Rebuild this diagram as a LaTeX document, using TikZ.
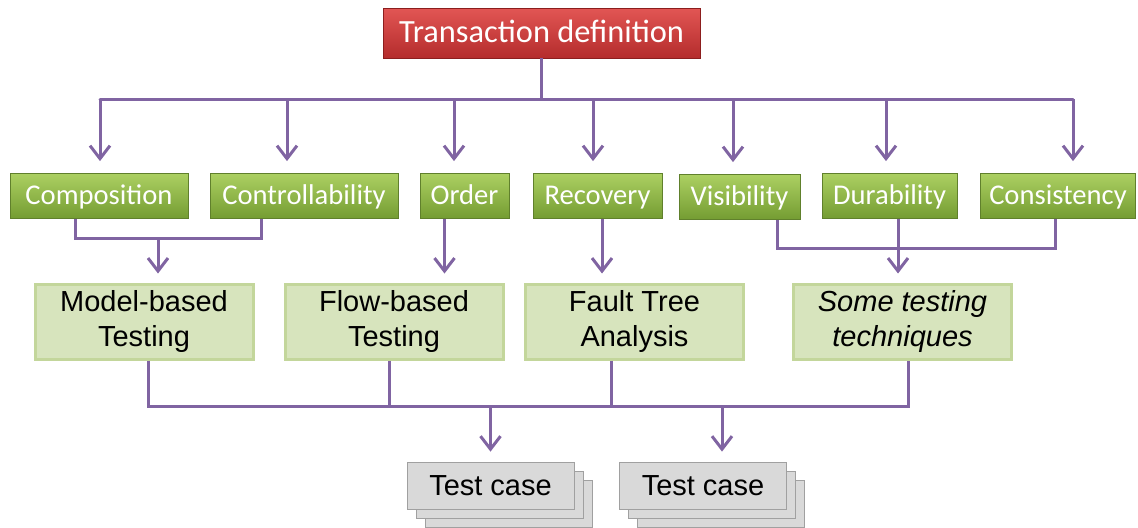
\documentclass[tikz,border=0pt]{standalone}
\usepackage{fontspec}
\setmainfont{Carlito}
\newfontfamily\arialfont{Liberation Sans}
\usetikzlibrary{arrows.meta,positioning}
\definecolor{linkpurple}{RGB}{128,100,162}
\definecolor{redtop}{RGB}{226,86,84}
\definecolor{redbot}{RGB}{180,44,44}
\definecolor{reddark}{RGB}{140,30,30}
\definecolor{greentop}{RGB}{172,208,98}
\definecolor{greenbot}{RGB}{116,156,50}
\definecolor{greendark}{RGB}{96,128,44}
\definecolor{paleFill}{RGB}{215,228,189}
\definecolor{paleEdge}{RGB}{195,214,155}
\definecolor{caseFill}{RGB}{217,217,217}
\definecolor{caseEdge}{RGB}{160,160,160}

\begin{document}
\begin{tikzpicture}[
                    >={Straight Barb[length=6.5pt,width=10pt]},
                x=0.5pt,y=-0.5pt,
                link/.style={draw=linkpurple,line width=1.5pt},
                head/.style={rectangle,inner sep=0pt,top color=redtop,bottom color=redbot,
                             draw=reddark,text=white,minimum height=25pt,
                             text height=12.5pt,text depth=3pt,
                             font=\fontsize{16.2}{18}\selectfont},
                prop/.style={rectangle,inner sep=0pt,top color=greentop,bottom color=greenbot,
                             draw=greendark,text=white,minimum height=22.5pt,
                             text height=10.8pt,text depth=2.5pt,
                             font=\fontsize{14.3}{16}\selectfont},
                tech/.style={rectangle,inner sep=0pt,fill=paleFill,draw=paleEdge,line width=1.5pt,
                             minimum width=109pt,minimum height=37.5pt,align=center,
                             font=\arialfont\fontsize{14.5}{17.5}\selectfont},
                testcase/.style={rectangle,inner sep=0pt,fill=caseFill,draw=caseEdge,
                             minimum width=83.5pt,minimum height=23.5pt,
                             font=\arialfont\fontsize{14.5}{17}\selectfont}]

                \useasboundingbox (0,0) rectangle (1138,527);

                % root
                \draw(541.5,33) node[head,minimum width=158.5pt] (T) {Transaction definition};

                % properties
                \draw(99,196) node[prop,minimum width=89pt] (C1) {Composition};
                \draw(304,196) node[prop,minimum width=94pt] (C2) {Controllability};
                \draw(464.5,196) node[prop,minimum width=44.5pt] (C3) {Order};
                \draw(597.5,196) node[prop,minimum width=64.5pt] (C4) {Recovery};
                \draw(739.5,197) node[prop,minimum width=60.5pt] (C5) {Visibility};
                \draw(889.5,196) node[prop,minimum width=67.5pt] (C6) {Durability};
                \draw(1058,196) node[prop,minimum width=77.5pt] (C7) {Consistency};

                % techniques
                \draw(144,321.5) node[tech] (M1) {Model-based\\Testing};
                \draw(394,321.5) node[tech] (M2) {Flow-based\\Testing};
                \draw(634.5,321.5) node[tech] (M3) {Fault Tree\\Analysis};
                \draw(902.5,321.5) node[tech] (M4) {\itshape Some testing\\\itshape techniques};

                % test cases, stacked
                \foreach \s in {2,1,0}
                {
                    \draw(490.5+9*\s,485.5+9*\s) node[testcase] (TA\s) {};
                    \draw(703+9*\s,485.5+9*\s) node[testcase] (TB\s) {};
                }
                \node at (TA0) [testcase,draw=none,fill=none] (X1) {Test case};
                \node at (TB0) [testcase,draw=none,fill=none] (X2) {Test case};

                % root -> properties
                \coordinate (top) at (0,99);
                \draw[link] (T) -- (T |- top);
                \draw[link,line cap=round] ([xshift=0.5pt]C1.north |- top) -- ([xshift=7.5pt]C7.north |- top);
                \foreach \n/\dx in {C1/0.5,C2/-8.5,C3/-5.25,C4/-2.25,C5/-3.25,C6/-1.75,C7/7.5}
                    \draw[link,->,shorten >=6pt] ([xshift=\dx pt]\n.north |- top) -- ([xshift=\dx pt]\n.north);

                % properties -> techniques
                \coordinate (mid1) at (0,238);
                \coordinate (mid2) at (0,248);
                \draw[link] ([xshift=-12pt]C1.south) -- ([xshift=-12pt]C1.south |- mid1) -| ([xshift=-21.5pt]C2.south);
                \draw[link,->,shorten >=4.5pt] ([xshift=7pt]M1.north |- mid1) -- ([xshift=7pt]M1.north);
                \draw[link,->,shorten >=4.5pt] ([xshift=-10pt]C3.south) -- ([xshift=-10pt]C3.south |- M2.north);
                \draw[link,->,shorten >=4.5pt] ([xshift=2.25pt]C4.south) -- ([xshift=2.25pt]C4.south |- M3.north);
                \draw[link] ([xshift=18.75pt]C5.south) -- ([xshift=18.75pt]C5.south |- mid2) -| ([xshift=-1.5pt]C7.south);
                \draw[link,->,shorten >=4.5pt] ([xshift=4.25pt]C6.south) -- ([xshift=4.25pt]C6.south |- M4.north);

                % techniques -> test cases
                \coordinate (bot) at (0,406);
                \draw[link] ([xshift=2pt]M1.south) -- ([xshift=2pt]M1.south |- bot) -| ([xshift=2.75pt]M4.south);
                \draw[link] ([xshift=-2.5pt]M2.south) -- ([xshift=-2.5pt]M2.south |- bot);
                \draw[link] ([xshift=-11.75pt]M3.south) -- ([xshift=-11.75pt]M3.south |- bot);
                \draw[link,->,shorten >=5pt] (TA0.north |- bot) -- (TA0.north);
                \draw[link,->,shorten >=5pt] ([xshift=9.5pt]TB0.north |- bot) -- ([xshift=9.5pt]TB0.north);

            \end{tikzpicture}
\end{document}
